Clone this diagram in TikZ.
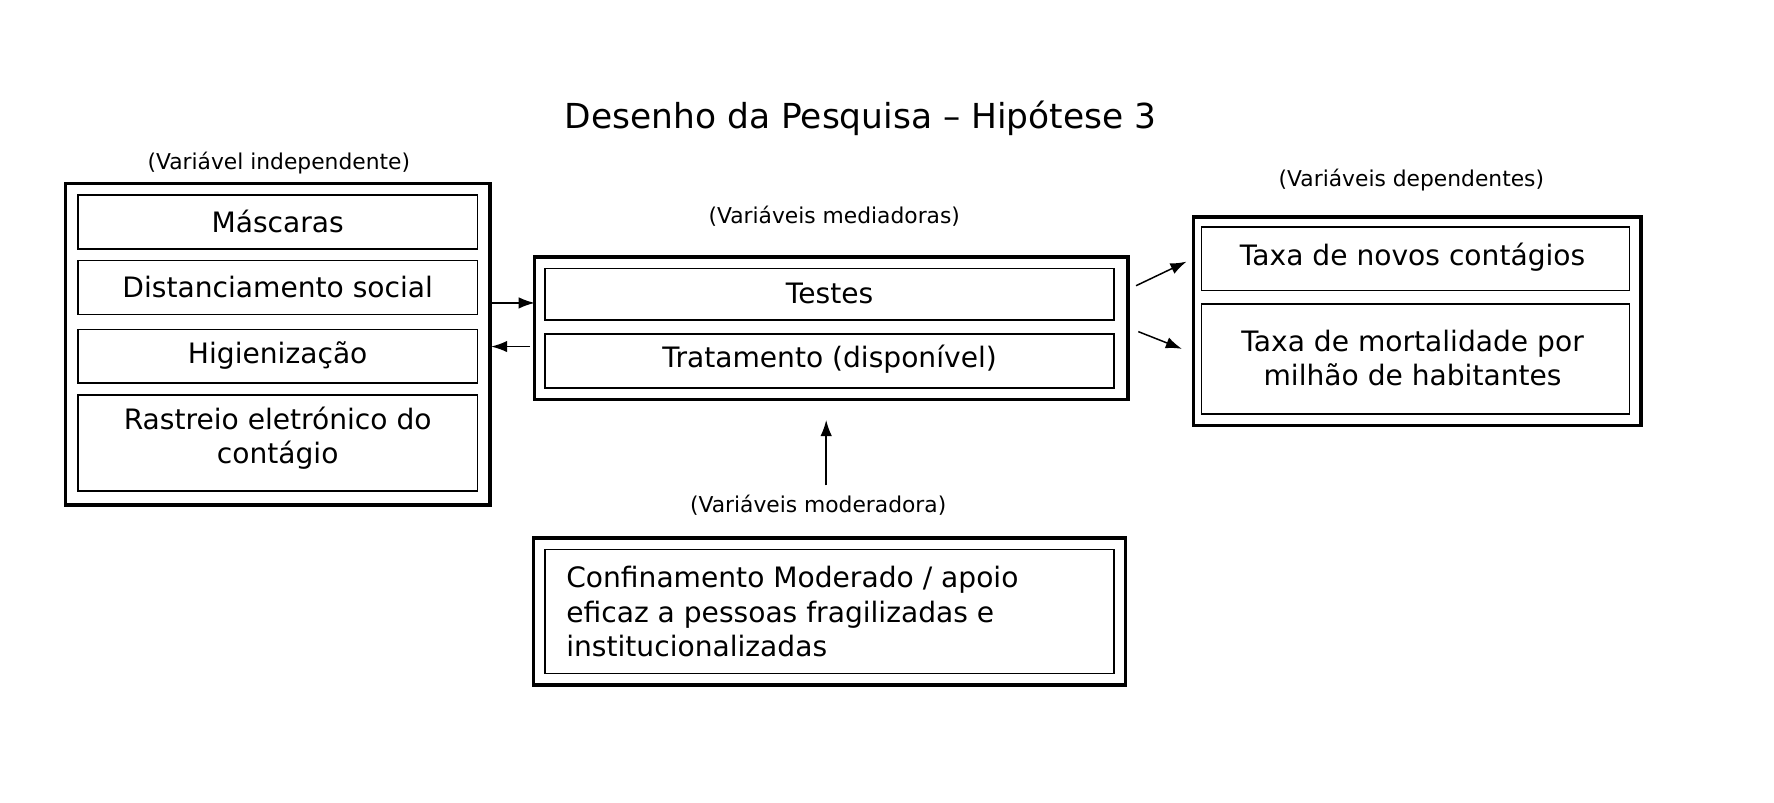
\documentclass[tikz,border=0pt]{standalone}
\usepackage{fontspec}
\setmainfont{DejaVu Sans}
\usetikzlibrary{arrows.meta}
\begin{document}
\begin{tikzpicture}[x=1pt,y=-1pt,
  outer/.style={draw,line width=3pt},
  inner/.style={draw,line width=1.4pt},
  btxt/.style={font=\fontsize{24.5}{30}\selectfont,align=center},
  lbl/.style={font=\fontsize{19}{23}\selectfont},
  arr/.style={-{Latex[length=14pt,width=10pt]},line width=1.3pt}]
\useasboundingbox (0,0) rectangle (1546,699);
\node[font=\fontsize{30}{36}\selectfont] (title) at (750,103) {Desenho da Pesquisa – Hipótese 3};
% left
\draw[outer] (57,160) rectangle (427,440);
\node[lbl] (l1) at (243,142) {(Variável independente)};
\draw[inner] (68,170) rectangle (416,217); \node[btxt] (m) at (242,193) {Máscaras};
\draw[inner] (68,227) rectangle (416,274); \node[btxt] (d) at (242,250) {Distanciamento social};
\draw[inner] (68,287) rectangle (416,334); \node[btxt] (h) at (242,310) {Higienização};
\draw[inner] (68,344) rectangle (416,428); \node[btxt] (r) at (242,382) {Rastreio eletrónico do\\contágio};
% middle
\draw[outer] (466,224) rectangle (983,348);
\node[lbl] (l2) at (727,188) {(Variáveis mediadoras)};
\draw[inner] (475,234) rectangle (971,279); \node[btxt] (t) at (723,256) {Testes};
\draw[inner] (475,291) rectangle (971,338); \node[btxt] (tr) at (723,313) {Tratamento (disponível)};
% right
\draw[outer] (1040,189) rectangle (1430,371);
\node[lbl] (l3) at (1230,157) {(Variáveis dependentes)};
\draw[inner] (1047,198) rectangle (1420,253); \node[btxt] (n) at (1231,224) {Taxa de novos contágios};
\draw[inner] (1047,265) rectangle (1420,361); \node[btxt] (mo) at (1231,312) {Taxa de mortalidade por\\milhão de habitantes};
% bottom
\draw[outer] (465,469) rectangle (981,597);
\node[lbl] (l4) at (713,440) {(Variáveis moderadora)};
\draw[inner] (475,479) rectangle (971,587);
\node[btxt,align=left,anchor=west] (c) at (490,533) {Confinamento Moderado / apoio\\eficaz a pessoas fragilizadas e\\institucionalizadas};
% arrows
\coordinate (a1) at (427,264); \coordinate (a2) at (466,264);
\coordinate (b1) at (462,302); \coordinate (b2) at (428,302);
\coordinate (c1) at (990,249); \coordinate (c2) at (1034,228);
\coordinate (d1) at (992,289); \coordinate (d2) at (1030,304);
\coordinate (e1) at (720,423); \coordinate (e2) at (720,366);
\draw[arr] (a1) -- (a2);
\draw[arr] (b1) -- (b2);
\draw[arr] (c1) -- (c2);
\draw[arr] (d1) -- (d2);
\draw[arr] (e1) -- (e2);
\end{tikzpicture}
\end{document}
